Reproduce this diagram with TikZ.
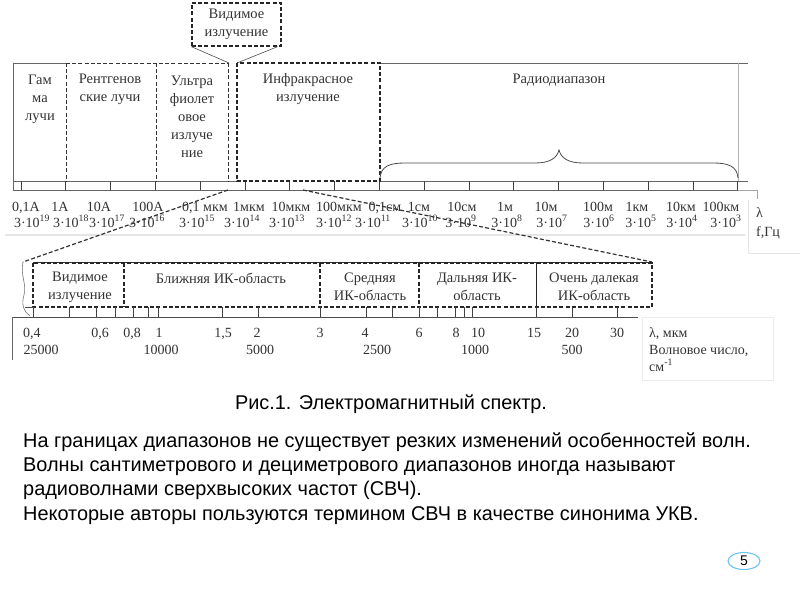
\documentclass[tikz,border=0pt]{standalone}
\usepackage{fontspec}
\setmainfont{Liberation Serif}
\newfontfamily\arialf{Liberation Sans}
\usetikzlibrary{shapes.geometric}
\definecolor{pgblue}{RGB}{110,195,235}
\begin{document}
\begin{tikzpicture}[x=1pt,y=-1pt,
  lbl/.style={font=\fontsize{14.5}{18}\selectfont, text=black!80, align=center, inner sep=0pt},
  scl/.style={font=\fontsize{14}{16}\selectfont, text=black!80, inner sep=0pt, anchor=base},
  dbox/.style={dash pattern=on 4pt off 2.2pt, line width=1.3pt, draw=black!85},
  dthin/.style={dash pattern=on 4pt off 2.2pt, line width=1pt, draw=black!80},
  frame/.style={line width=0.7pt, draw=black!60},
  faint/.style={line width=0.8pt, draw=black!10},
  tickln/.style={line width=0.9pt, draw=black!75},
  body/.style={font=\arialf\fontsize{19.9}{24}\selectfont, inner sep=0pt, anchor=base west}]
\useasboundingbox (0,0) rectangle (800,600);
\fill[white] (0,0) rectangle (800,600);

% ---------- upper frame ----------
\draw[frame] (13,63) -- (66,63);
\draw[frame] (380,63) -- (748,63);
\draw[frame] (13,63) -- (13,190);
\draw[frame] (13,181) -- (237,181);
\draw[frame] (380,181) -- (748,181);
\draw[frame, draw=black!30] (738,63) -- (738,181);
\draw[frame] (13,190) -- (748,190);
\foreach \k in {0,...,16} \draw[tickln] ({21+44.8*\k},181) -- ({21+44.8*\k},190);

\draw[dthin] (66,63) -- (228,63);
\draw[dthin] (66,63) -- (66,181);
\draw[dthin] (156,63) -- (156,181);
\draw[dthin] (228,63) -- (228,181);
\draw[dbox] (237,63) rectangle (380,181);

% visible callout
\node[draw, dbox, minimum width=89pt, minimum height=43pt, lbl] (vis) at (236.5,24.5) {Видимое\\излучение};
\coordinate (visl) at (229,63);
\coordinate (visr) at (237,63);
\draw[line width=0.6pt, black!70] (vis.south west) -- (visl);
\draw[line width=0.6pt, black!70] ([xshift=-4pt]vis.south east) -- (visr);

% labels in upper frame
\node[lbl] (gam) at (40,99) {Гам\\ма\\лучи};
\node[lbl] (rent) at (110,89.5) {Рентгенов\\ские лучи};
\node[lbl] (uv) at (192,116.5) {Ультра\\фиолет\\овое\\излуче\\ние};
\node[lbl] (ir) at (308,89) {Инфракрасное\\излучение};
\node[lbl] (radio) at (559,80) {Радиодиапазон};

% brace
\draw[line width=0.8pt, black!70] (380,178) .. controls (381,166) and (390,163) .. (405,163) -- (535,163)
  .. controls (550,163) and (557,158) .. (559,150) .. controls (561,158) and (568,163) .. (583,163)
  -- (713,163) .. controls (728,163) and (737,166) .. (738,178);

% scale labels
\foreach \x/\t [count=\i] in {26/{0,1A},60/1A,99/10A,148/100A,205/{0,1 мкм},249/1мкм,291/10мкм,339/100мкм,385/{0,1см},419/1см,462/10см,505/1м,546/10м,598/100м,637/1км,681/10км,721/100км}
  \node[scl] (wl\i) at (\x,211) {\t};
\foreach \x/\e [count=\i] in {32/19,71/18,107/17,147/16,197/15,242/14,287/13,334/12,373/11,420/10,461/9,507/8,552/7,599/6,641/5,682/4,726/3}
  \node[scl] (fq\i) at (\x,227) {3·10\textsuperscript{\e}};

\draw[line width=2pt, black!10] (5,235) -- (745,235);

% right label (upper)
\draw[frame, draw=black!35] (738,190) -- (757,190) -- (757,199);
\draw[faint] (748,200) -- (748,253) -- (800,253);
\node[scl, anchor=base west] (lam1) at (756,217) {λ};
\node[scl, anchor=base west] (fhz) at (756,236) {f,Гц};

% ---------- connectors to lower diagram ----------
\coordinate (ul) at (228,190);
\coordinate (ur) at (303,190);
\coordinate (ll) at (23,262);
\coordinate (lr) at (652,262);
\draw[dthin, line width=1.2pt] (ul) -- (ll);
\draw[dthin, line width=1.2pt] (ur) -- (lr);

% ---------- lower diagram ----------
\draw[line width=0.6pt, black!55] (ll) .. controls (20,275) and (27,284) .. (24,295)
  .. controls (21,305) and (24,312) .. (30,316);
\draw[frame, draw=black!80] (33,262) -- (650,262);
\draw[dbox] (33,263) rectangle (652,307);
\draw[dbox] (124,263) -- (124,307);
\draw[dbox] (320,263) -- (320,307);
\draw[dbox] (419,263) -- (419,307);
\draw[line width=1pt, black!85] (536,263) -- (536,307);
\draw[frame, draw=black!70] (25,307) -- (33,307);
\draw[frame, draw=black!70] (12,317) -- (638,317);
\draw[frame] (12,317) -- (12,360);
\foreach \x in {33,69,96,115,133,148,158,222,258,320,366,392,419,437,455,464,472,536,572,617}
  \draw[tickln] (\x,307) -- (\x,317);

\node[lbl] (vis2) at (80,287) {Видимое\\излучение};
\node[lbl] (near) at (221,278) {Ближняя ИК-область};
\node[lbl] (mid) at (370,287) {Средняя\\ИК-область};
\node[lbl] (far) at (477,287) {Дальняя ИК-\\область};
\node[lbl] (vfar) at (594,287) {Очень далекая\\ИК-область};

\foreach \x/\t [count=\i] in {32/{0,4},100/{0,6},132/{0,8},159/1,223/{1,5},257/2,320/3,365/4,419/6,456/8,478/10,534/15,572/20,617/30}
  \node[scl] (mu\i) at (\x,337) {\t};
\foreach \x/\t [count=\i] in {41/25000,161/10000,260/5000,377/2500,475/1000,572/500}
  \node[scl] (wn\i) at (\x,354) {\t};

\draw[faint, draw=black!7] (642,317) -- (773,317) -- (773,380) -- (642,380) -- cycle;
\node[scl, anchor=base west] (lam2) at (649,337) {λ, мкм};
\node[scl, anchor=base west] (wnum) at (649,354) {Волновое число,};
\node[scl, anchor=base west] (cm) at (649,371) {см\textsuperscript{-1}};

% ---------- text ----------
\node[font=\arialf\fontsize{19.9}{24}\selectfont, inner sep=0pt, anchor=base] (cap) at (391,409) {Рис.1. Электромагнитный спектр.};
\node[body] (p1) at (23,447) {На границах диапазонов не существует резких изменений особенностей волн.};
\node[body] (p2) at (23,471) {Волны сантиметрового и дециметрового диапазонов иногда называют};
\node[body] (p3) at (23,495) {радиоволнами сверхвысоких частот (СВЧ).};
\node[body] (p4) at (23,520) {Некоторые авторы пользуются термином СВЧ в качестве синонима УКВ.};

\node[ellipse, draw=pgblue, line width=1.1pt, minimum width=32pt, minimum height=17pt, inner sep=0pt,
  font=\arialf\fontsize{14}{14}\selectfont] (pg) at (744,561) {5};
\end{tikzpicture}
\end{document}
